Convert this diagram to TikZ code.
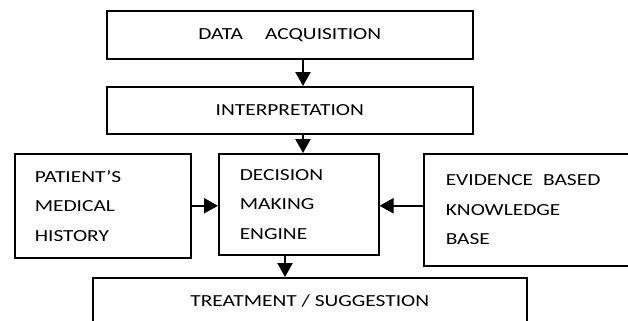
\documentclass[tikz,border=0pt]{standalone}
\usepackage{fontspec}
\setmainfont{Carlito}[FakeStretch=1.27]
\usetikzlibrary{arrows.meta, positioning}

\tikzset{
  block/.style={draw, line width=1.1pt, anchor=north west, inner sep=0pt,
    font=\fontsize{12}{21}\selectfont},
  listblock/.style={block, align=left, inner xsep=5mm},
  flow/.style={line width=1.1pt, -{Triangle[length=3.5mm, width=3.8mm]}}
}

\begin{document}
\begin{tikzpicture}[x=0.25mm, y=-0.25mm]
  \clip (0,0) rectangle (628,320);

  % Main column
  \node[block, minimum width=91.5mm, minimum height=12mm] (acq) at (106,10)
    {DATA\hspace{5.5mm}ACQUISITION};
  \node[block, minimum width=91.5mm, minimum height=11.75mm] (interp) at (106,86)
    {INTERPRETATION};

  % Middle row
  \node[listblock, text width=34mm, minimum height=26mm] (history) at (14,153)
    {PATIENT’S\\MEDICAL\\HISTORY};
  \node[listblock, text width=29.5mm, inner xsep=5.25mm, minimum height=25.25mm] (engine) at (218,153)
    {DECISION\\MAKING\\ENGINE};
  \node[listblock, text width=43.25mm, inner xsep=5.5mm, minimum height=28mm] (evidence) at (423,153)
    {EVIDENCE\hspace{2.5mm}BASED\\KNOWLEDGE\\BASE};

  % Output
  \node[block, minimum width=108.5mm, minimum height=11.5mm] (treat) at (92,277)
    {TREATMENT / SUGGESTION};

  % Arrows
  \coordinate (mainx) at (303,0);
  \coordinate (outx) at (285,0);
  \draw[flow] (acq.south -| mainx) -- (interp.north -| mainx);
  \draw[flow] (interp.south -| mainx) -- (engine.north -| mainx);
  \draw[flow] (history.east) -- (history.east -| engine.west);
  \draw[flow] (evidence.west |- history.east) -- (engine.east |- history.east);
  \draw[flow] (engine.south -| outx) -- (treat.north -| outx);
\end{tikzpicture}
\end{document}
